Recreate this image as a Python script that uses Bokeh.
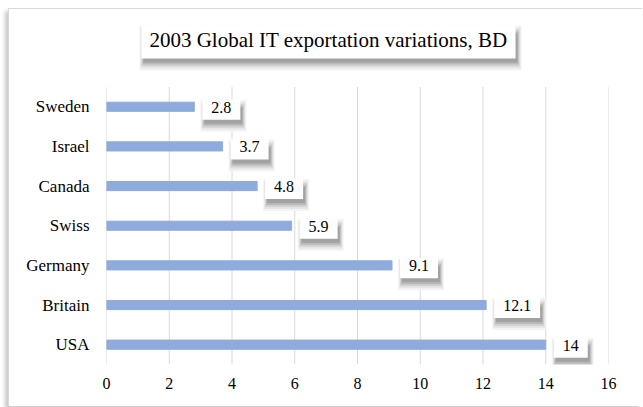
from bokeh.plotting import figure
from bokeh.models import Range1d, FixedTicker, Label, ColumnDataSource
from bokeh.embed import file_html
from bokeh.resources import INLINE

countries = ["Sweden", "Israel", "Canada", "Swiss", "Germany", "Britain", "USA"]
values = [2.8, 3.7, 4.8, 5.9, 9.1, 12.1, 14]
x_ticks = [0, 2, 4, 6, 8, 10, 12, 14, 16]
title_text = "2003 Global IT exportation variations, BD"

FONT = "Liberation Serif"
BAR_COLOR = "#8FAADC"
GRID_COLOR = "#d9d9d9"

n = len(countries)
ypos = [n - i - 0.5 for i in range(n)]  # row centres, top to bottom

# the frame extends above the bars to hold the title box
p = figure(
    width=634, height=398,
    y_range=Range1d(0, n + 1.6),
    x_range=Range1d(0, 16),
    output_backend="svg", toolbar_location=None,
    min_border_left=97, min_border_right=35, min_border_top=14, min_border_bottom=43,
)
p.margin = (8, 0, 0, 8)
p.styles = {"border-top": "1px solid #d9d9d9", "border-left": "1px solid #d9d9d9",
            "box-shadow": "-3px 3px 4px rgba(0,0,0,0.22)"}
p.outline_line_color = None
p.background_fill_color = "white"
p.border_fill_color = "white"

# vertical gridlines, only over the bar area
p.xgrid.grid_line_color = None
p.ygrid.grid_line_color = None
p.segment(x0=x_ticks, y0=[0] * len(x_ticks), x1=x_ticks, y1=[n] * len(x_ticks),
          line_color=GRID_COLOR, line_width=1)

src = ColumnDataSource(dict(y=ypos, value=values))
p.hbar(y="y", right="value", left=0, height=0.23, color=BAR_COLOR, source=src)

# axes
p.xaxis.ticker = FixedTicker(ticks=x_ticks)
p.yaxis.ticker = FixedTicker(ticks=ypos)
p.yaxis.major_label_overrides = {y: c for y, c in zip(ypos, countries)}
for ax in (p.xaxis[0], p.yaxis[0]):
    ax.axis_line_color = None
    ax.major_tick_line_color = None
    ax.minor_tick_line_color = None
    ax.major_tick_out = 0
    ax.major_tick_in = 0
    ax.major_label_text_font = FONT
    ax.major_label_text_color = "#000000"
p.xaxis.major_label_text_font_size = "16px"
p.yaxis.major_label_text_font_size = "17px"
p.xaxis.major_label_standoff = 13
p.yaxis.major_label_standoff = 17

SHADOW_LAYERS = [((4, 6), "#f4f4f4"), ((3, 4), "#e6e6e6"), ((2, 2), "#d2d2d2"),
                 ((1, 0), "#b9b9b9"), ((0, -2), "#a2a2a2")]


def boxed_label(x, y, text, size, xo, yo, pad, align, x_units="data", y_units="data"):
    """white text box with a soft drop shadow below it"""
    for (glr, gtb), col in SHADOW_LAYERS:
        sp = {"left": max(pad["left"] + glr, 0), "right": max(pad["right"] + glr, 0),
              "top": max(pad["top"] + gtb, 0), "bottom": max(pad["bottom"] + gtb, 0)}
        p.add_layout(Label(x=x, y=y, x_units=x_units, y_units=y_units, text=text,
                           x_offset=xo + 2 - (glr if align == "left" else 0), y_offset=yo - 6,
                           text_font=FONT, text_font_size=size, text_color=col,
                           text_align=align, text_baseline="middle",
                           background_fill_color=col, padding=sp))
    p.add_layout(Label(x=x, y=y, x_units=x_units, y_units=y_units, text=text,
                       x_offset=xo, y_offset=yo,
                       text_font=FONT, text_font_size=size, text_color="#000000",
                       text_align=align, text_baseline="middle",
                       background_fill_color="white", background_fill_alpha=1.0,
                       padding=pad))


# data labels
label_pad = {"left": 9, "right": 9, "top": 2, "bottom": 7}
for y, v in zip(ypos, values):
    boxed_label(v, y, f"{v:g}", "16px", 8, -3, label_pad, "left")

# title box
title_pad = {"left": 8, "right": 8, "top": 3, "bottom": 6}
boxed_label(222, n, title_text, "21px", 0, 45, title_pad, "center", x_units="screen")

open("out.html", "w").write(file_html(p, INLINE))
